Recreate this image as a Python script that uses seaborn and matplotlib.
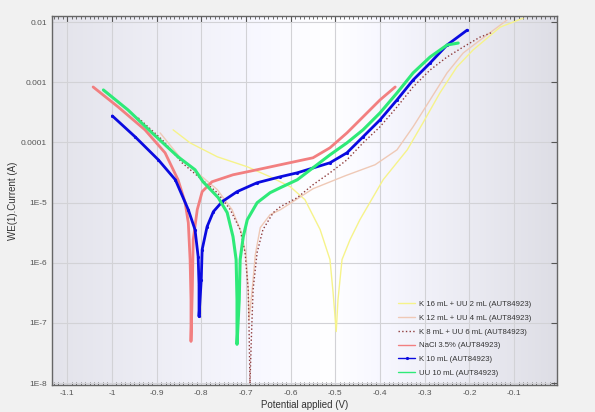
import matplotlib
matplotlib.use("Agg")
import matplotlib.pyplot as plt
import numpy as np
import pandas as pd
import seaborn as sns
from matplotlib.ticker import FixedLocator, FixedFormatter, MultipleLocator, NullLocator

# values (potential in V, current in A), scan order cathodic -> anodic
e_yellow = [-0.863, -0.825, -0.764, -0.697, -0.646, -0.601, -0.568, -0.534, -0.512, -0.505, -0.498,
            -0.494, -0.485, -0.467, -0.445, -0.393, -0.339, -0.304, -0.266, -0.228, -0.192, -0.131, -0.080]
i_yellow = [1.62e-4, 9.84e-5, 5.77e-5, 3.94e-5, 2.69e-5, 1.84e-5, 1.12e-5, 3.56e-6, 1.13e-6, 3.2e-7, 7.2e-8,
            2.45e-7, 1.13e-6, 2.43e-6, 5.2e-6, 2.40e-5, 7.54e-5, 2.11e-4, 6.65e-4, 1.80e-3, 3.43e-3, 8.26e-3, 1.16e-2]

e_peach = [-0.892, -0.843, -0.764, -0.731, -0.711, -0.700, -0.695, -0.693,
           -0.686, -0.679, -0.668, -0.646, -0.623, -0.550, -0.478, -0.411, -0.362, -0.326, -0.288,
           -0.250, -0.214, -0.176, -0.116]
i_peach = [1.44e-4, 5.14e-5, 1.64e-5, 7.62e-6, 3.3e-6, 1.37e-6, 3.6e-7, 1.14e-7,
           3.6e-7, 1.37e-6, 3.84e-6, 6.3e-6, 7.62e-6, 1.70e-5, 2.79e-5, 4.26e-5, 7.54e-5, 1.82e-4, 5.09e-4,
           1.43e-3, 3.06e-3, 5.03e-3, 1.08e-2]

e_brown = [-0.941, -0.887, -0.843, -0.764, -0.735, -0.713, -0.702, -0.695, -0.693, -0.691,
           -0.688, -0.684, -0.675, -0.662, -0.639, -0.623, -0.585, -0.550, -0.512, -0.474, -0.438,
           -0.400, -0.362, -0.326, -0.288, -0.250, -0.214, -0.176, -0.147]
i_brown = [2.56e-4, 1.10e-4, 4.59e-5, 1.46e-5, 7.62e-6, 3.56e-6, 1.48e-6, 3.6e-7, 7.8e-8, 9.9e-9,
           5.3e-8, 3.6e-7, 1.48e-6, 3.56e-6, 6.81e-6, 8.55e-6, 1.21e-5, 1.98e-5, 3.13e-5, 5.14e-5, 9.84e-5,
           1.82e-4, 3.89e-4, 8.36e-4, 1.60e-3, 2.63e-3, 3.85e-3, 5.64e-3, 6.83e-3]

e_nacl = [-1.042, -0.986, -0.926, -0.881, -0.852, -0.836, -0.829, -0.825, -0.823, -0.823,
          -0.820, -0.818, -0.809, -0.798, -0.776, -0.729, -0.675, -0.623, -0.550, -0.512, -0.474,
          -0.438, -0.400, -0.366]
i_nacl = [8.36e-4, 3.89e-4, 1.62e-4, 6.73e-5, 2.40e-5, 9.96e-6, 4.64e-6, 1.13e-6, 2.45e-7, 4.93e-8,
          3.6e-7, 2.43e-6, 7.62e-6, 1.52e-5, 2.22e-5, 2.90e-5, 3.52e-5, 4.26e-5, 5.56e-5, 8.15e-5, 1.44e-4,
          2.66e-4, 5.09e-4, 8.36e-4]

e_k10 = [-0.999, -0.948, -0.896, -0.858, -0.829, -0.814, -0.807, -0.805, -0.805,
         -0.800, -0.798, -0.787, -0.773, -0.753, -0.720, -0.675, -0.623, -0.585, -0.512, -0.474,
         -0.438, -0.400, -0.362, -0.326, -0.288, -0.250, -0.205]
i_k10 = [2.76e-4, 1.24e-4, 5.14e-5, 2.40e-5, 7.62e-6, 3.56e-6, 1.27e-6, 4.35e-7, 1.28e-7,
         5.26e-7, 1.66e-6, 3.98e-6, 7.06e-6, 1.04e-5, 1.52e-5, 2.14e-5, 2.69e-5, 3.13e-5, 4.59e-5, 6.73e-5,
         1.24e-4, 2.37e-4, 5.09e-4, 1.09e-3, 2.09e-3, 4.16e-3, 7.36e-3]

e_uu10 = [-1.019, -0.964, -0.910, -0.852, -0.814, -0.796, -0.762, -0.742, -0.729, -0.722, -0.720, -0.720,
          -0.715, -0.713, -0.706, -0.697, -0.675, -0.646, -0.623, -0.585, -0.512, -0.474, -0.438,
          -0.400, -0.362, -0.326, -0.288, -0.250, -0.225]
i_uu10 = [7.45e-4, 3.47e-4, 1.44e-4, 5.77e-5, 3.52e-5, 2.22e-5, 1.21e-5, 6.81e-6, 2.72e-6, 1.13e-6, 2.45e-7, 4.41e-8,
          2.45e-7, 1.13e-6, 2.72e-6, 5.2e-6, 9.96e-6, 1.46e-5, 1.77e-5, 2.40e-5, 6.22e-5, 9.84e-5, 1.62e-4,
          3.10e-4, 6.65e-4, 1.43e-3, 2.63e-3, 4.16e-3, 4.49e-3]

x_ticks = [-1.1, -1.0, -0.9, -0.8, -0.7, -0.6, -0.5, -0.4, -0.3, -0.2, -0.1]
x_labels = ["-1.1", "-1", "-0.9", "-0.8", "-0.7", "-0.6", "-0.5", "-0.4", "-0.3", "-0.2", "-0.1"]
y_ticks = [1e-8, 1e-7, 1e-6, 1e-5, 1e-4, 1e-3, 1e-2]
y_labels = ["1E-8", "1E-7", "1E-6", "1E-5", "0.0001", "0.001", "0.01"]

series = [
    ("K 16 mL + UU 2 mL (AUT84923)", e_yellow, i_yellow, dict(color="#f6f38a", lw=1.0)),
    ("K 12 mL + UU 4 mL (AUT84923)", e_peach, i_peach, dict(color="#efc9b6", lw=1.0)),
    ("K 8 mL + UU 6 mL (AUT84923)", e_brown, i_brown, dict(color="#8e3b3b", lw=1.0, ls=":")),
    ("NaCl 3.5% (AUT84923)", e_nacl, i_nacl, dict(color="#f27f80", lw=2.0)),
    ("K 10 mL (AUT84923)", e_k10, i_k10,
     dict(color="#0a0ae0", lw=2.0, marker=".", ms=3, mec="#0a0ae0", mfc="#0a0ae0")),
    ("UU 10 mL (AUT84923)", e_uu10, i_uu10, dict(color="#2eea78", lw=2.2)),
]

sns.set_style("white")
plt.rcParams["font.family"] = ["Liberation Sans", "DejaVu Sans"]

fig = plt.figure(figsize=(5.95, 4.12), dpi=100)
fig.patch.set_facecolor("#f1f1f1")
ax = fig.add_axes([0.0874, 0.0655, 0.8487, 0.8955])

# soft horizontal gradient behind the plot
grad = np.interp(np.linspace(0, 1, 256), [0, 0.55, 1], [0.89, 1.0, 0.87])
rgb = np.stack([grad, grad, np.minimum(grad + 0.03, 1.0)], axis=-1)[None, :, :]
ax.imshow(rgb, extent=[0, 1, 0, 1], transform=ax.transAxes, aspect="auto", zorder=0)

for name, e, i, style in series:
    df = pd.DataFrame({"E": e, "I": i})
    sns.lineplot(data=df, x="E", y="I", ax=ax, sort=False, estimator=None, label=name, zorder=3, **style)

ax.set_yscale("log")
ax.set_xlim(-1.134, -0.004)
ax.set_ylim(9.3e-9, 1.26e-2)

ax.xaxis.set_major_locator(FixedLocator(x_ticks))
ax.xaxis.set_major_formatter(FixedFormatter(x_labels))
ax.xaxis.set_minor_locator(MultipleLocator(0.01))
ax.yaxis.set_major_locator(FixedLocator(y_ticks))
ax.yaxis.set_major_formatter(FixedFormatter(y_labels))
ax.yaxis.set_minor_locator(NullLocator())

ax.grid(True, which="major", color="#d2d2d6", lw=0.8, zorder=1)
ax.set_axisbelow(True)
ax.tick_params(axis="both", which="major", direction="in", length=4, width=0.8,
               colors="#555555", labelsize=6, top=True, right=True, labelcolor="#555555")
ax.tick_params(axis="x", which="minor", direction="in", length=2, width=0.6,
               color="#555555", top=True, bottom=True)
for sp in ax.spines.values():
    sp.set_color("#666666")
    sp.set_linewidth(1.0)

ax.set_xlabel("Potential applied (V)", fontsize=7, color="#333333", labelpad=2)
ax.set_ylabel("WE(1).Current (A)", fontsize=7, color="#333333", labelpad=2)

leg = ax.legend(loc="lower left", bbox_to_anchor=(0.683, 0.018), frameon=False, fontsize=5.6,
                handlelength=2.1, handletextpad=0.6, labelspacing=0.81,
                borderaxespad=0.0, borderpad=0.2)
for t in leg.get_texts():
    t.set_color("#333333")
for h in leg.get_lines():
    h.set_linewidth(1.0)

fig.savefig("out.png", dpi=100, facecolor=fig.get_facecolor())
